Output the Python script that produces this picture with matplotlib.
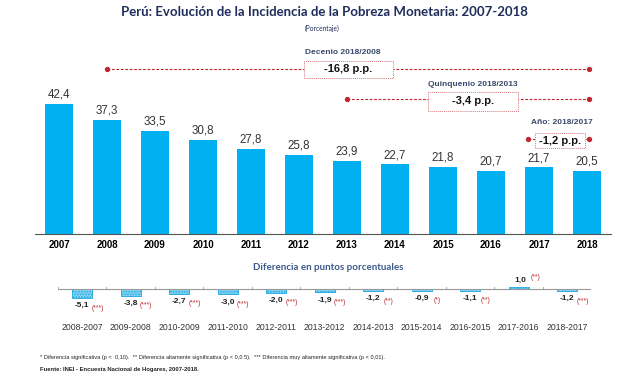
import matplotlib
matplotlib.use("Agg")
import matplotlib.pyplot as plt
from matplotlib.patches import Rectangle

years = ["2007", "2008", "2009", "2010", "2011", "2012", "2013", "2014", "2015", "2016", "2017", "2018"]
poverty = [42.4, 37.3, 33.5, 30.8, 27.8, 25.8, 23.9, 22.7, 21.8, 20.7, 21.7, 20.5]
diff_labels = ["2008-2007", "2009-2008", "2010-2009", "2011-2010", "2012-2011", "2013-2012",
               "2014-2013", "2015-2014", "2016-2015", "2017-2016", "2018-2017"]
diffs = [-5.1, -3.8, -2.7, -3.0, -2.0, -1.9, -1.2, -0.9, -1.1, 1.0, -1.2]
signif = ["(***)", "(***)", "(***)", "(***)", "(***)", "(***)", "(**)", "(*)", "(**)", "(**)", "(***)"]
periods = ["Decenio 2018/2008", "Quinquenio 2018/2013", "Año: 2018/2017"]
period_vals = ["-16,8 p.p.", "-3,4 p.p.", "-1,2 p.p."]

W, H = 640, 377
fig = plt.figure(figsize=(W / 100, H / 100), dpi=100)

def fx(px):
    return px / W

def fy(py):
    return 1 - py / H

def fmt(v):
    return f"{v:.1f}".replace(".", ",")

BLUE = "#00B0F0"
NAVY = "#1F2D5C"
RED = "#C0282D"

# ---- main bar chart ----
top_px, base_px = 40, 234
scale = (234 - 104) / 42.4
ax = fig.add_axes([fx(35), fy(base_px), fx(576), (base_px - top_px) / H])
ax.set_xlim(-0.5, 11.5)
ax.set_ylim(0, (base_px - top_px) / scale)
x = list(range(len(years)))
ax.bar(x, poverty, width=28 / 48, color=BLUE, zorder=2)
for xi, v in zip(x, poverty):
    ax.text(xi, v + 1.1, fmt(v), ha="center", va="bottom", fontsize=8.3,
            family="Liberation Sans", color="#333333")
for s in ["top", "right", "left"]:
    ax.spines[s].set_visible(False)
ax.spines["bottom"].set_color("#555555")
ax.set_yticks([])
ax.set_xticks(x)
ax.set_xticklabels(years, fontsize=7, fontweight="bold", family="Liberation Sans")
ax.tick_params(axis="x", length=0, pad=4)

def py2d(py):
    return (base_px - py) / scale

def px2d(px):
    return (px - 59) / 48

# annotations: line x-range (data), line y px, label pos px, box px
ann = [
    (1, 11.04, 69, (343, 53), (304, 393, 61, 78), periods[0], period_vals[0]),
    (6, 11.04, 99, (473, 84), (428, 518, 92, 111), periods[1], period_vals[1]),
    (9.77, 11.04, 139, (562, 123), (535, 585, 133, 148), periods[2], period_vals[2]),
]
for x0, x1, yl, (lx, ly), (bx0, bx1, by0, by1), lab, val in ann:
    yd = py2d(yl)
    ax.plot([x0, x1], [yd, yd], color=RED, lw=0.8, ls=(0, (2.5, 1.5)), zorder=3, clip_on=False)
    ax.plot([x0, x1], [yd, yd], "o", color=RED, ms=2.8, zorder=4, clip_on=False)
    rx0, rx1 = px2d(bx0), px2d(bx1)
    ry0, ry1 = py2d(by1), py2d(by0)
    ax.add_patch(Rectangle((rx0, ry0), rx1 - rx0, ry1 - ry0, fc="white", ec="#D97A80",
                           lw=0.7, ls=(0, (1, 1)), zorder=5, clip_on=False))
    ax.text((rx0 + rx1) / 2, (ry0 + ry1) / 2, val, ha="center", va="center", fontsize=8,
            fontweight="bold", family="Liberation Sans", color="#111111", zorder=6, clip_on=False)
    ax.text(px2d(lx), py2d(ly), lab, ha="center", va="center", fontsize=6, fontweight="bold",
            family="Liberation Sans", color="#3B4A6B", clip_on=False)

# ---- difference chart ----
axis_px = 289
dscale = 1.8
ax2 = fig.add_axes([fx(57.75), fy(303), fx(533.5), 28 / H])
ax2.set_xlim(-0.5, 10.5)
ax2.set_ylim(-14 / dscale, 14 / dscale)
xd = list(range(len(diffs)))
ax2.bar(xd, diffs, width=20 / 48.5, color="#8FD8F5", edgecolor="#1AA7E0", hatch="......",
        lw=0.6, zorder=2)
ax2.axhline(0, color="#999999", lw=0.8, zorder=3)
for b in [i - 0.5 for i in range(12)]:
    ax2.plot([b, b], [0, 1.2], color="#999999", lw=0.6, zorder=3)
ax2.axis("off")
for xi, v, s in zip(xd, diffs, signif):
    if v < 0:
        ax2.text(xi, v - 2.2, fmt(v), ha="center", va="top", fontsize=6,
                 fontweight="bold", family="Liberation Sans", color="#222222", clip_on=False)
        ax2.text(xi + 0.32, v - 3.6, s, ha="center", va="top", fontsize=5,
                 family="Liberation Sans", color=RED, clip_on=False)
    else:
        ax2.text(xi + 0.03, v + 1.7, fmt(v), ha="center", va="bottom", fontsize=6,
                 fontweight="bold", family="Liberation Sans", color="#222222", clip_on=False)
        ax2.text(xi + 0.35, v + 3.2, s, ha="center", va="bottom", fontsize=5,
                 family="Liberation Sans", color=RED, clip_on=False)
for xi, lab in zip(xd, diff_labels):
    ax2.text(xi, -(327 - axis_px) / dscale, lab, ha="center", va="center", fontsize=6.2,
             family="Liberation Sans", color="#333333", clip_on=False)

# ---- titles / text ----
title = fig.text(fx(324), fy(12), "Perú: Evolución de la Incidencia de la Pobreza Monetaria: 2007-2018",
                 ha="center", va="center", fontsize=10.5, fontweight="bold", family="Lato", color=NAVY)
fig.canvas.draw()
tw = title.get_window_extent().width
title.set_fontsize(10.5 * 408 / tw)
fig.text(fx(322), fy(28), "(Porcentaje)", ha="center", va="center", fontsize=4.8,
         family="Lato", color=NAVY)
fig.text(fx(328), fy(267), "Diferencia en puntos porcentuales", ha="center", va="center",
         fontsize=7, fontweight="bold", family="Lato", color="#3A5A8C")
fig.text(fx(40), fy(357),
         "* Diferencia significativa (p <  0,10).  ** Diferencia altamente significativa (p < 0,0 5).  *** Diferencia muy altamente significativa (p < 0,01).",
         ha="left", va="center", fontsize=4.1, family="Liberation Sans", color="#222222")
fig.text(fx(40), fy(369), "Fuente: INEI - Encuesta Nacional de Hogares, 2007-2018.",
         ha="left", va="center", fontsize=4.2, fontweight="bold", family="Liberation Sans",
         color="#222222")

fig.savefig("out.png", dpi=100, facecolor="white")
